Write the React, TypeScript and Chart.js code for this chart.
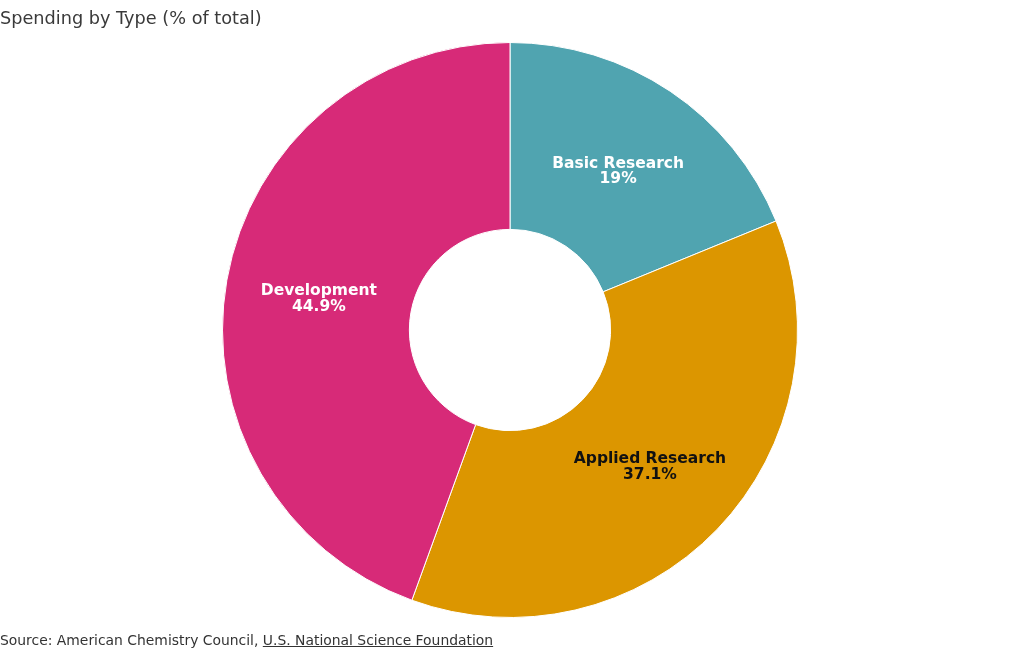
import React, { useEffect, useRef } from "react";
import { Chart, registerables } from "chart.js";

Chart.register(...registerables);

const categories = ["Basic Research", "Applied Research", "Development"];
const values = [19, 37.1, 44.9];
const valueLabels = ["19%", "37.1%", "44.9%"];
const colors = ["#50A4B0", "#DC9600", "#D72A78"];
const labelColors = ["#ffffff", "#111111", "#ffffff"];

const FONT = "'DejaVu Sans', sans-serif";

const labelPlugin = {
  id: "sliceLabels",
  afterDatasetsDraw(chart: any) {
    const ctx = chart.ctx;
    const meta = chart.getDatasetMeta(0);
    ctx.save();
    ctx.textAlign = "center";
    ctx.textBaseline = "middle";
    ctx.font = `bold 15.5px ${FONT}`;
    meta.data.forEach((arc: any, i: number) => {
      const p = arc.getCenterPoint();
      ctx.fillStyle = labelColors[i];
      ctx.fillText(categories[i], p.x, p.y - 5);
      ctx.fillText(valueLabels[i], p.x, p.y + 10.5);
    });
    ctx.restore();
  },
};

export default function App() {
  const ref = useRef<HTMLCanvasElement>(null);
  useEffect(() => {
    document.body.style.margin = "0";
    const chart = new Chart(ref.current!, {
      type: "doughnut",
      data: {
        labels: categories,
        datasets: [
          {
            data: values,
            backgroundColor: colors,
            borderColor: "#ffffff",
            borderWidth: 1,
          },
        ],
      },
      options: {
        animation: false,
        responsive: false,
        cutout: "35%",
        layout: { padding: { top: 42, bottom: 32, left: 0, right: 0 } },
        plugins: {
          legend: { display: false },
          tooltip: { enabled: false },
        },
      },
      plugins: [labelPlugin],
    });
    return () => chart.destroy();
  }, []);
  return (
    <div style={{ position: "relative", width: 1020, height: 650, fontFamily: FONT, color: "#333" }}>
      <canvas ref={ref} width={1020} height={650} style={{ position: "absolute", left: 0, top: 0 }} />
      <div style={{ position: "absolute", left: 0, top: 6, fontSize: 17.7, lineHeight: "24px", color: "#3a3a3a" }}>
        Spending by Type (% of total)
      </div>
      <div style={{ position: "absolute", left: 0, top: 630, fontSize: 13.9, lineHeight: "20px", color: "#333" }}>
        Source: American Chemistry Council,{" "}
        <span style={{ textDecoration: "underline" }}>U.S. National Science Foundation</span>
      </div>
    </div>
  );
}
